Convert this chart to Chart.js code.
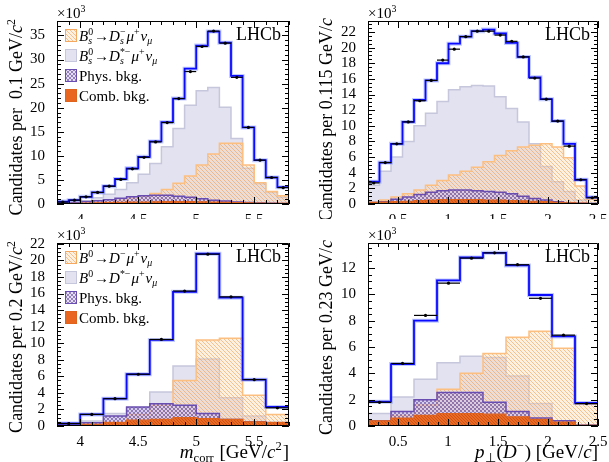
<!DOCTYPE html>
<html>
<head>
<meta charset="utf-8">
<script src="https://cdn.jsdelivr.net/npm/chart.js@4/dist/chart.umd.min.js"></script>
<style>
  html, body { margin: 0; padding: 0; background: #fff; }
  body { width: 609px; height: 462px; position: relative; overflow: hidden; }
  canvas { position: absolute; background: #fff; }
</style>
</head>
<body>
<canvas id="c1" width="305" height="231" style="left:0;top:0"></canvas>
<canvas id="c2" width="304" height="231" style="left:305px;top:0"></canvas>
<canvas id="c3" width="305" height="243" style="left:0;top:219px"></canvas>
<canvas id="c4" width="304" height="243" style="left:305px;top:219px"></canvas>
<script>
// ---- binning (x ranges in GeV) ----
var mcorrRange = [3.8, 5.8];
var ptRange = [0.2, 2.5];
var binsBs = 20, binsB0 = 10;

// ---- Bs -> Ds mu nu, m_corr (x10^3 candidates per bin) ----
var bsMcorrData  = [0.4, 0.8, 1.5, 2.4, 3.7, 5.1, 7.3, 9.7, 12.9, 16.9, 21.9, 27.5, 32.7, 35.9, 33.4, 26.3, 15.9, 9.1, 5.5, 3.4];
var bsMcorrFit   = [0.5, 0.8, 1.5, 2.4, 3.7, 5.2, 7.4, 9.8, 13.0, 17.0, 21.9, 28.1, 32.9, 35.8, 33.5, 26.6, 15.9, 9.1, 5.5, 3.5];
var bsMcorrDs    = [0.05, 0.1, 0.15, 0.35, 0.5, 0.8, 1.2, 1.6, 2.2, 3.0, 4.3, 5.8, 8.1, 10.4, 12.6, 12.6, 8.1, 4.4, 2.6, 1.7];
var bsMcorrDsSt  = [0.2, 0.3, 0.6, 1.3, 2.0, 3.0, 4.4, 6.2, 8.4, 11.9, 15.7, 20.5, 23.5, 24.2, 20.1, 13.6, 7.4, 4.2, 2.4, 1.4];
var bsMcorrPhys  = [0.2, 0.3, 0.5, 0.7, 0.9, 1.2, 1.5, 1.7, 1.8, 1.8, 1.6, 1.4, 1.1, 0.8, 0.6, 0.4, 0.3, 0.2, 0.15, 0.1];
var bsMcorrComb  = [0.1, 0.15, 0.2, 0.25, 0.3, 0.35, 0.4, 0.4, 0.45, 0.5, 0.5, 0.5, 0.45, 0.4, 0.35, 0.3, 0.25, 0.2, 0.15, 0.15];

// ---- Bs -> Ds mu nu, pT(Ds) ----
var bsPtData  = [2.7, 5.3, 7.7, 10.5, 13.2, 15.8, 18.4, 19.8, 21.4, 22.1, 22.1, 21.6, 20.8, 18.8, 16.1, 13.4, 10.6, 7.4, 3.1, 0.8];
var bsPtFit   = [2.85, 5.3, 7.7, 10.5, 13.3, 15.8, 18.0, 20.5, 21.4, 22.1, 22.3, 21.8, 20.6, 18.8, 16.2, 13.4, 10.6, 7.7, 3.1, 0.85];
var bsPtDs    = [0.2, 0.5, 0.9, 1.3, 1.8, 2.4, 3.0, 3.7, 4.2, 4.7, 5.4, 6.2, 6.8, 7.3, 7.5, 7.7, 7.3, 5.9, 2.3, 0.6];
var bsPtDsSt  = [2.4, 4.2, 6.0, 8.0, 10.0, 11.6, 13.1, 14.6, 15.0, 15.15, 15.1, 13.7, 12.2, 10.5, 7.7, 4.8, 2.85, 1.6, 0.5, 0.1];
var bsPtPhys  = [0.2, 0.3, 0.6, 0.9, 1.2, 1.5, 1.7, 1.8, 1.8, 1.7, 1.6, 1.5, 1.3, 1.0, 0.7, 0.5, 0.3, 0.15, 0.1, 0.05];
var bsPtComb  = [0.2, 0.25, 0.3, 0.35, 0.45, 0.5, 0.55, 0.55, 0.55, 0.55, 0.5, 0.5, 0.45, 0.4, 0.35, 0.3, 0.2, 0.15, 0.1, 0.05];

// ---- B0 -> D mu nu, m_corr ----
var b0McorrData = [0.3, 1.4, 3.3, 6.25, 10.45, 16.3, 20.75, 15.6, 5.6, 2.2];
var b0McorrFit  = [0.3, 1.4, 3.3, 6.25, 10.4, 16.2, 20.8, 15.5, 5.6, 2.3];
var b0McorrD    = [0.05, 0.2, 0.5, 1.4, 2.5, 5.5, 10.4, 10.6, 3.7, 1.4];
var b0McorrDSt  = [0.1, 0.6, 1.5, 2.2, 4.1, 7.25, 8.1, 3.4, 1.2, 0.5];
var b0McorrPhys = [0.2, 0.4, 1.2, 2.3, 2.7, 2.5, 1.5, 0.8, 0.5, 0.3];
var b0McorrComb = [0.1, 0.2, 0.4, 0.7, 0.8, 1.0, 0.9, 0.8, 0.5, 0.4];

// ---- B0 -> D mu nu, pT(D) ----
var b0PtData = [1.8, 4.75, 8.4, 10.85, 12.75, 13.15, 12.25, 9.7, 6.9, 1.7];
var b0PtFit  = [1.85, 4.7, 8.0, 11.06, 12.8, 13.15, 12.2, 9.95, 6.8, 1.75];
var b0PtD    = [0.1, 0.8, 1.6, 2.8, 4.0, 5.5, 6.75, 7.2, 5.9, 1.65];
var b0PtDSt  = [0.95, 2.2, 3.55, 4.8, 5.3, 5.2, 3.8, 1.7, 0.35, 0.1];
var b0PtPhys = [0.4, 1.1, 2.0, 2.55, 2.55, 1.8, 1.1, 0.6, 0.4, 0.05];
var b0PtComb = [0.4, 0.6, 0.8, 0.95, 0.95, 0.9, 0.7, 0.5, 0.3, 0.05];

var FONT = '"Liberation Serif", "Times New Roman", serif';
Chart.defaults.font.family = FONT;

function font(sz, it) { return (it ? 'italic ' : '') + sz + 'px ' + FONT; }

function edgesOf(range, n) {
    var w = (range[1] - range[0]) / n;
    var out = [];
    for (var i = 0; i <= n; i++) out.push(range[0] + i * w);
    return out;
}
function histPoints(edges, vals) {
    return edges.map(function(e, i) { return {x: e, y: vals[Math.min(i, vals.length - 1)]}; });
}
function centerPoints(edges, vals) {
    return vals.map(function(v, i) { return {x: (edges[i] + edges[i + 1]) / 2, y: v}; });
}
// major tick values: multiples of step inside [min, max]
function majorTicks(scale, step) {
    var out = [];
    for (var k = Math.ceil(scale.min / step - 1e-6); k * step <= scale.max + 1e-6; k++) {
        out.push({value: +(k * step).toFixed(4)});
    }
    scale.ticks = out;
}

function makePattern(size, draw) {
    var c = document.createElement('canvas');
    c.width = c.height = size;
    var g = c.getContext('2d');
    draw(g, size);
    return g.createPattern(c, 'repeat');
}
function diag(g, s, dir) {
    for (var k = -1; k <= 1; k++) {
        g.beginPath();
        if (dir > 0) { g.moveTo(-1, -1 + k * s); g.lineTo(s + 1, s + 1 + k * s); }
        else { g.moveTo(-1, s + 1 + k * s); g.lineTo(s + 1, -1 + k * s); }
        g.stroke();
    }
}
var orangeHatch = makePattern(4, function(g, s) {
    g.fillStyle = 'rgba(255,215,170,0.35)'; g.fillRect(0, 0, s, s);
    g.strokeStyle = 'rgba(238,150,70,0.6)'; g.lineWidth = 0.9; diag(g, s, 1);
});
var purpleHatch = makePattern(4, function(g, s) {
    g.fillStyle = 'rgba(200,185,230,0.45)'; g.fillRect(0, 0, s, s);
    g.strokeStyle = 'rgba(85,55,150,0.7)'; g.lineWidth = 0.8; diag(g, s, 1); diag(g, s, -1);
});
var combFill = makePattern(3, function(g, s) {
    g.fillStyle = '#ea6a22'; g.fillRect(0, 0, s, s);
    g.strokeStyle = 'rgba(190,70,20,0.8)'; g.lineWidth = 0.8; diag(g, s, 1);
});
var lavender = '#e2e2f0';

// text with sub/superscripts: parts are strings or {t,i} / {sup,sub,i,si}
function drawRich(ctx, parts, x, y, size, align) {
    var ss = size * 0.66;
    var items = parts.map(function(p) { return typeof p === 'string' ? {t: p} : Object.assign({}, p); });
    var w = 0;
    items.forEach(function(o) {
        if (o.t !== undefined) { ctx.font = font(size, o.i); o.w = ctx.measureText(o.t).width; }
        else {
            ctx.font = font(ss, o.i); var a = o.sup ? ctx.measureText(o.sup).width : 0;
            ctx.font = font(ss, o.si); var b = o.sub ? ctx.measureText(o.sub).width : 0;
            o.w = Math.max(a, b) + 1;
        }
        w += o.w;
    });
    var cx = align === 'right' ? x - w : (align === 'center' ? x - w / 2 : x);
    ctx.textAlign = 'left';
    ctx.textBaseline = 'alphabetic';
    ctx.fillStyle = '#000';
    items.forEach(function(o) {
        if (o.t !== undefined) { ctx.font = font(size, o.i); ctx.fillText(o.t, cx, y); }
        else {
            if (o.sup) { ctx.font = font(ss, o.i); ctx.fillText(o.sup, cx, y - size * 0.4); }
            if (o.sub) { ctx.font = font(ss, o.si); ctx.fillText(o.sub, cx, y + size * 0.22); }
        }
        cx += o.w;
    });
}

function ticksOn(scale, minorStep, majorStep, cb) {
    var k0 = Math.ceil(scale.min / minorStep - 1e-6);
    for (var k = k0; k * minorStep <= scale.max + 1e-6; k++) {
        var v = k * minorStep;
        var r = v / majorStep;
        cb(scale.getPixelForValue(v), Math.abs(r - Math.round(r)) < 1e-6);
    }
}

function decoPlugin(cfg) {
    return {
        id: 'deco',
        afterDatasetsDraw: function(chart) {
            var ctx = chart.ctx, a = chart.chartArea;
            ctx.save();
            ctx.strokeStyle = '#000';
            ctx.lineWidth = 1;
            ctx.beginPath();
            ctx.rect(Math.round(a.left) + 0.5, Math.round(a.top) + 0.5, Math.round(a.right - a.left) - 1, Math.round(a.bottom - a.top) - 1);
            ctx.stroke();
            ctx.beginPath();
            ticksOn(chart.scales.x, cfg.xMinor, cfg.xStep, function(px, major) {
                var len = major ? 7 : 4; px = Math.round(px) + 0.5;
                ctx.moveTo(px, a.bottom); ctx.lineTo(px, a.bottom - len);
                ctx.moveTo(px, a.top); ctx.lineTo(px, a.top + len);
            });
            ticksOn(chart.scales.y, cfg.yMinor, cfg.yStep, function(py, major) {
                var len = major ? 7 : 4; py = Math.round(py) + 0.5;
                ctx.moveTo(a.left, py); ctx.lineTo(a.left + len, py);
                ctx.moveTo(a.right, py); ctx.lineTo(a.right - len, py);
            });
            ctx.stroke();
            ctx.restore();
        },
        afterDraw: function(chart) {
            var ctx = chart.ctx, a = chart.chartArea;
            ctx.save();
            // x10^3
            drawRich(ctx, ['\u00d710', {sup: '3'}], a.left, a.top - 3, 15, 'left');
            // LHCb
            ctx.font = font(18);
            ctx.fillStyle = '#000';
            ctx.textAlign = 'right';
            ctx.fillText('LHCb', a.right - 8, a.top + 19);
            // y title
            ctx.save();
            ctx.translate(cfg.yTitleX, a.top - 3);
            ctx.rotate(-Math.PI / 2);
            drawRich(ctx, cfg.yTitle, 0, 0, 18, 'right');
            ctx.restore();
            // x title
            if (cfg.xTitle) drawRich(ctx, cfg.xTitle, a.right, a.bottom + 32, 19, 'right');
            // legend
            if (cfg.legend) {
                cfg.legend.forEach(function(item, i) {
                    var by = a.top + 8 + i * 20;
                    var bx = a.left + 8;
                    ctx.fillStyle = item.fill;
                    ctx.fillRect(bx, by, 12, 13);
                    ctx.strokeStyle = item.line;
                    ctx.lineWidth = 1;
                    ctx.strokeRect(bx + 0.5, by + 0.5, 11, 12);
                    drawRich(ctx, item.text, bx + 14, by + 12, 15, 'left');
                });
            }
            ctx.restore();
        }
    };
}

function makeChart(id, cfg) {
    var edges = edgesOf(cfg.range, cfg.nBins);
    var halfBin = function(c) {
        var s = c.chart.scales.x;
        return Math.abs(s.getPixelForValue(edges[1]) - s.getPixelForValue(edges[0])) / 2;
    };
    var hist = function(vals, color, fill, width) {
        return {
            data: histPoints(edges, vals), stepped: true, pointRadius: 0,
            borderColor: color, borderWidth: width, backgroundColor: fill,
            fill: fill ? 'origin' : false
        };
    };
    var datasets = [
        {data: centerPoints(edges, cfg.data), showLine: false, pointStyle: 'circle',
         pointRadius: 1.6, pointBackgroundColor: '#000', pointBorderColor: '#000', pointBorderWidth: 0},
        {data: centerPoints(edges, cfg.data), showLine: false, pointStyle: 'line',
         pointRadius: halfBin, pointBorderColor: '#000', pointBorderWidth: 1.2},
        hist(cfg.fit, '#0a0aff', null, 1.8),
        hist(cfg.fit, 'rgba(120,140,255,0.45)', null, 4),
        hist(cfg.comb, '#e0631d', combFill, 1.2),
        hist(cfg.phys, '#6a4db0', purpleHatch, 1.5),
        hist(cfg.sig, '#fdbf80', orangeHatch, 1.5),
        hist(cfg.star, '#c6c6dc', lavender, 1.5)
    ];
    return new Chart(document.getElementById(id), {
        type: 'line',
        data: {datasets: datasets},
        options: {
            responsive: false,
            animation: false,
            events: [],
            layout: {padding: {top: cfg.padTop, right: cfg.padRight, left: 0, bottom: 0}},
            plugins: {legend: {display: false}, tooltip: {enabled: false}},
            scales: {
                x: {
                    type: 'linear', min: cfg.range[0], max: cfg.range[1],
                    grid: {display: false}, border: {display: false},
                    ticks: {autoSkip: false, maxRotation: 0, padding: 1, color: '#000',
                            font: {size: 15, family: FONT, lineHeight: 1},
                            callback: function(v) { return String(+v.toFixed(2)); }},
                    afterBuildTicks: function(s) { majorTicks(s, cfg.xStep); },
                    afterFit: function(s) { s.height = cfg.xH; }
                },
                y: {
                    min: 0, max: cfg.yMax,
                    grid: {display: false}, border: {display: false},
                    ticks: {autoSkip: false, padding: 4, color: '#000',
                            font: {size: 15, family: FONT}},
                    afterBuildTicks: function(s) { majorTicks(s, cfg.yStep); },
                    afterFit: function(s) { s.width = cfg.yW; }
                }
            }
        },
        plugins: [decoPlugin(cfg)]
    });
}

var legendBs = [
    {fill: orangeHatch, line: '#f5a860', text: [{t: 'B', i: 1}, {sup: '0', sub: 's', si: 1}, '\u2192', {t: 'D', i: 1}, {sup: '\u2212', sub: 's', si: 1}, {t: '\u03bc', i: 1}, {sup: '+'}, {t: '\u03bd', i: 1}, {sub: '\u03bc', si: 1}]},
    {fill: lavender, line: '#c6c6dc', text: [{t: 'B', i: 1}, {sup: '0', sub: 's', si: 1}, '\u2192', {t: 'D', i: 1}, {sup: '*\u2212', sub: 's', si: 1}, {t: '\u03bc', i: 1}, {sup: '+'}, {t: '\u03bd', i: 1}, {sub: '\u03bc', si: 1}]},
    {fill: purpleHatch, line: '#6a4db0', text: ['Phys. bkg.']},
    {fill: '#e8661f', line: '#e0631d', text: ['Comb. bkg.']}
];
var legendB0 = [
    {fill: orangeHatch, line: '#f5a860', text: [{t: 'B', i: 1}, {sup: '0'}, '\u2192', {t: 'D', i: 1}, {sup: '\u2212'}, {t: '\u03bc', i: 1}, {sup: '+'}, {t: '\u03bd', i: 1}, {sub: '\u03bc', si: 1}]},
    {fill: lavender, line: '#c6c6dc', text: [{t: 'B', i: 1}, {sup: '0'}, '\u2192', {t: 'D', i: 1}, {sup: '*\u2212'}, {t: '\u03bc', i: 1}, {sup: '+'}, {t: '\u03bd', i: 1}, {sub: '\u03bc', si: 1}]},
    {fill: purpleHatch, line: '#6a4db0', text: ['Phys. bkg.']},
    {fill: '#e8661f', line: '#e0631d', text: ['Comb. bkg.']}
];

makeChart('c1', {
    range: mcorrRange, nBins: binsBs, data: bsMcorrData, fit: bsMcorrFit, sig: bsMcorrDs,
    star: bsMcorrDsSt, phys: bsMcorrPhys, comb: bsMcorrComb,
    yMax: 38, yStep: 5, yMinor: 1, xStep: 0.5, xMinor: 0.1,
    yW: 57, xH: 27, padTop: 21, padRight: 16, yTitleX: 22,
    yTitle: ['Candidates per  0.1 GeV/', {t: 'c', i: 1}, {sup: '2'}],
    legend: legendBs
});
makeChart('c2', {
    range: ptRange, nBins: binsBs, data: bsPtData, fit: bsPtFit, sig: bsPtDs,
    star: bsPtDsSt, phys: bsPtPhys, comb: bsPtComb,
    yMax: 23.4, yStep: 2, yMinor: 0.5, xStep: 0.5, xMinor: 0.1,
    yW: 63, xH: 27, padTop: 21, padRight: 11, yTitleX: 27,
    yTitle: ['Candidates per 0.115 GeV/', {t: 'c', i: 1}]
});
makeChart('c3', {
    range: mcorrRange, nBins: binsB0, data: b0McorrData, fit: b0McorrFit, sig: b0McorrD,
    star: b0McorrDSt, phys: b0McorrPhys, comb: b0McorrComb,
    yMax: 22.1, yStep: 2, yMinor: 0.5, xStep: 0.5, xMinor: 0.1,
    yW: 57, xH: 36, padTop: 24, padRight: 16, yTitleX: 22,
    yTitle: ['Candidates per 0.2 GeV/', {t: 'c', i: 1}, {sup: '2'}],
    xTitle: [{t: 'm', i: 1}, {sub: 'corr'}, ' [GeV/', {t: 'c', i: 1}, {sup: '2'}, ']'],
    legend: legendB0
});
makeChart('c4', {
    range: ptRange, nBins: binsB0, data: b0PtData, fit: b0PtFit, sig: b0PtD,
    star: b0PtDSt, phys: b0PtPhys, comb: b0PtComb,
    yMax: 13.9, yStep: 2, yMinor: 0.5, xStep: 0.5, xMinor: 0.1,
    yW: 63, xH: 36, padTop: 24, padRight: 11, yTitleX: 27,
    yTitle: ['Candidates per 0.23 GeV/', {t: 'c', i: 1}],
    xTitle: [{t: 'p', i: 1}, {sub: '\u22a5'}, '(', {t: 'D', i: 1}, {sup: '\u2212'}, ') [GeV/', {t: 'c', i: 1}, ']']
});
</script>
</body>
</html>
